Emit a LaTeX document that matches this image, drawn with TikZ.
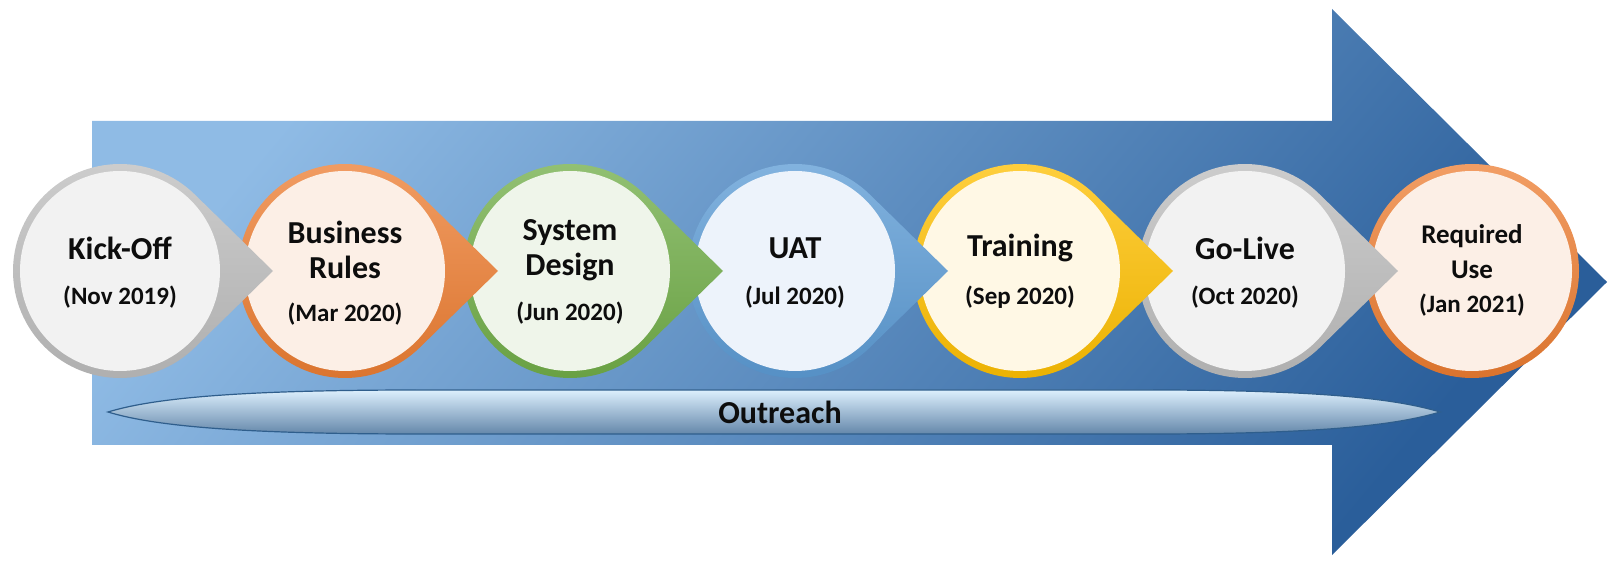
\documentclass[tikz,border=0pt]{standalone}
\usepackage{fontspec}
\setmainfont{Carlito}
\definecolor{ringgray}{HTML}{BDBDBD}
\definecolor{ringorange}{HTML}{ED7D31}
\definecolor{ringgreen}{HTML}{70AD47}
\definecolor{ringblue}{HTML}{5B9BD5}
\definecolor{ringyellow}{HTML}{FFC000}
\definecolor{ingray}{HTML}{F2F2F2}
\definecolor{inorange}{HTML}{FCEFE6}
\definecolor{ingreen}{HTML}{EFF5EA}
\definecolor{inblue}{HTML}{EDF3FB}
\definecolor{inyellow}{HTML}{FFF8E5}
\definecolor{arrlight}{HTML}{8FBBE5}
\definecolor{arrmid}{HTML}{5891CD}
\definecolor{arrdark}{HTML}{2A5E9A}
\definecolor{barline}{HTML}{2F5E8C}
\definecolor{bartop}{HTML}{DCEFFD}
\definecolor{barmid}{HTML}{A9D1F5}
\definecolor{barbot}{HTML}{6487AA}
\definecolor{txt}{HTML}{0D0D0D}
\newcommand\mystage[4]{%
  \coordinate (c#1) at (#2,289);
  \coordinate (p#1) at (#2+153,289);
  \shade[top color=#3!75!white, bottom color=#3!92!black]
    (c#1) ++(45.6:107) arc[start angle=45.6,end angle=314.4,radius=107] -- (p#1) -- cycle;
  \node[stagecircle, fill=#4] (s#1) at (c#1) {};
}
\begin{document}
\begin{tikzpicture}[x=1pt,y=1pt,
  stagecircle/.style={circle, minimum size=200pt, inner sep=0pt},
  ttl/.style={font=\bfseries\fontsize{32}{35}\selectfont, align=center, text=txt, inner sep=0pt},
  ttlsmall/.style={font=\bfseries\fontsize{27}{35}\selectfont, align=center, text=txt, inner sep=0pt},
  dt/.style={font=\bfseries\fontsize{25}{28}\selectfont, text=txt, inner sep=0pt},
]
\useasboundingbox (0,0) rectangle (1610,560);
% big arrow
\shade[top color=arrlight, middle color=arrmid, bottom color=arrdark, shading angle=50]
  (92,115) -- (1332,115) -- (1332,5) -- (1607,278) -- (1332,551) -- (1332,439) -- (92,439) -- cycle;
% outreach bar
\shade[draw=barline, line width=1.2pt, top color=bartop, middle color=barmid, bottom color=barbot]
  (108,148) .. controls (160,164) and (260,170) .. (420,170) -- (1150,170)
  .. controls (1330,170) and (1400,160) .. (1440,148)
  .. controls (1400,136) and (1330,126) .. (1150,126) -- (420,126)
  .. controls (260,126) and (160,132) .. (108,148) -- cycle;
\node[ttl] (outreach) at (780,148) {Outreach};
% stages, right to left
\coordinate (c7) at (1472,289);
\shade[top color=ringorange!75!white, bottom color=ringorange!92!black] (c7) circle[radius=107];
\node[stagecircle, fill=inorange] (s7) at (c7) {};
\mystage{6}{1245}{ringgray}{ingray}
\mystage{5}{1020}{ringyellow}{inyellow}
\mystage{4}{795}{ringblue}{inblue}
\mystage{3}{570}{ringgreen}{ingreen}
\mystage{2}{345}{ringorange}{inorange}
\mystage{1}{120}{ringgray}{ingray}
% texts
\node[ttl] (t1) at (120,312) {Kick-Off};
\node[dt] (d1) at (120,263) {(Nov 2019)};
\node[ttl] (t2) at (345,310) {Business\\Rules};
\node[dt] (d2) at (345,246) {(Mar 2020)};
\node[ttl] (t3) at (570,310) {System\\Design};
\node[dt] (d3) at (570,247) {(Jun 2020)};
\node[ttl] (t4) at (795,312) {UAT};
\node[dt] (d4) at (795,263) {(Jul 2020)};
\node[ttl] (t5) at (1020,312) {Training};
\node[dt] (d5) at (1020,263) {(Sep 2020)};
\node[ttl] (t6) at (1245,312) {Go-Live};
\node[dt] (d6) at (1245,263) {(Oct 2020)};
\node[ttlsmall] (t7) at (1472,308) {Required\\Use};
\node[dt] (d7) at (1472,255) {(Jan 2021)};
\end{tikzpicture}
\end{document}
